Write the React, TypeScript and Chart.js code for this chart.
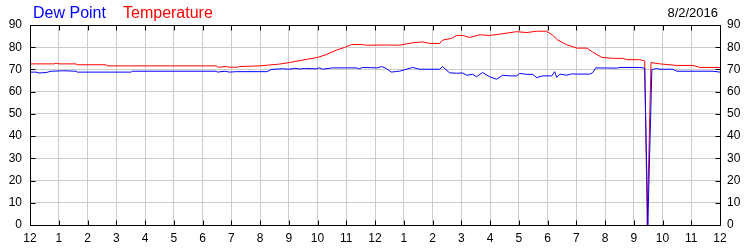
import React, { useEffect, useRef } from "react";
import { Chart, registerables } from "chart.js";

Chart.register(...registerables);

const hourLabels = ["12","1","2","3","4","5","6","7","8","9","10","11","12","1","2","3","4","5","6","7","8","9","10","11","12"];
const yTicks = [0, 10, 20, 30, 40, 50, 60, 70, 80, 90];
const dateLabel = "8/2/2016";
const seriesNames = ["Dew Point", "Temperature"];

const tempHours = [0,0.84,0.91,1.01,1.6,1.64,2.65,2.68,6.48,6.55,6.83,6.93,7.21,7.28,7.98,8.67,9.02,9.61,10.0,10.31,10.66,10.94,11.18,11.56,11.7,12.33,12.85,13.31,13.65,13.9,14.25,14.35,14.66,14.84,15.05,15.29,15.64,15.99,16.34,16.93,17.28,17.62,17.97,18.18,18.36,18.67,19.02,19.37,19.57,19.89,20.27,20.62,20.76,21.21,21.38,21.47,21.6,21.91,22.5,23.06,23.3,24];
const tempValues = [72.5,72.5,72.8,72.5,72.5,72.1,72.1,71.6,71.6,71.0,71.3,71.0,71.0,71.3,71.6,72.4,73.1,74.5,75.4,76.7,78.7,79.9,81.2,81.2,80.9,81.0,80.9,82.0,82.4,81.7,81.7,83.2,84.0,85.3,85.3,84.4,85.6,85.3,85.9,87.0,86.6,87.2,87.2,85.4,83.2,81.1,79.6,79.6,77.8,75.4,75.0,75.0,74.4,74.4,73.8,0,73.1,72.5,71.8,71.8,70.9,70.9];

const dewHours = [0,0.21,0.31,0.56,0.73,1.18,1.6,1.64,3.52,3.55,6.48,6.51,6.79,6.93,7.18,8.25,8.39,8.78,9.02,9.2,9.37,9.54,9.96,10.07,10.17,10.52,11.35,11.46,11.56,12.09,12.23,12.4,12.57,12.75,12.85,13.31,13.55,14.25,14.35,14.59,14.84,15.05,15.19,15.4,15.53,15.74,15.99,16.23,16.44,16.68,16.93,17.03,17.28,17.49,17.62,17.83,18.15,18.25,18.32,18.43,18.67,18.84,19.02,19.47,19.57,19.68,20.41,20.52,21.21,21.38,21.49,21.63,21.8,21.91,22.36,22.5,23.76,24];
const dewValues = [68.8,68.8,68.4,68.6,69.2,69.4,69.2,68.8,68.8,69.2,69.2,68.8,69.2,68.8,69.0,69.0,70.0,70.3,70.1,70.5,70.2,70.4,70.3,70.7,70.1,70.7,70.7,70.3,70.9,70.7,71.3,70.4,68.8,69.1,69.2,70.9,70.1,70.1,71.3,68.5,68.3,68.4,67.4,67.8,66.7,68.6,66.7,65.6,67.4,67.1,67.1,68.2,67.8,67.8,66.3,67.1,67.1,69.0,66.4,67.9,67.4,68.0,67.9,67.9,68.5,70.7,70.6,70.9,70.9,70.6,0,70.0,70.4,70.1,70.1,69.2,69.2,68.8];

const FONT = "'Liberation Sans', Arial, sans-serif";

const framePlugin = {
  id: "frameAndText",
  afterDraw(chart: any) {
    const { ctx, chartArea } = chart;
    const { left, right, top, bottom } = chartArea;
    const xs = chart.scales.x;
    const ys = chart.scales.y;
    ctx.save();
    ctx.strokeStyle = "#000";
    ctx.lineWidth = 1;
    ctx.beginPath();
    const L = Math.round(left) + 0.5, R = Math.round(right) + 0.5;
    const T = Math.round(top) + 0.5, B = Math.round(bottom) + 0.5;
    ctx.rect(L, T, R - L, B - T);
    for (let i = 0; i < hourLabels.length; i++) {
      const px = Math.round(xs.getPixelForValue(i)) + 0.5;
      ctx.moveTo(px, B); ctx.lineTo(px, B - 5);
      ctx.moveTo(px, T); ctx.lineTo(px, T + 5);
    }
    for (const v of yTicks) {
      const py = Math.round(ys.getPixelForValue(v)) + 0.5;
      ctx.moveTo(L, py); ctx.lineTo(L + 5, py);
      ctx.moveTo(R, py); ctx.lineTo(R - 5, py);
    }
    ctx.stroke();
    ctx.font = `16px ${FONT}`;
    ctx.textBaseline = "alphabetic";
    ctx.textAlign = "left";
    ctx.fillStyle = "#0000ff";
    ctx.fillText(seriesNames[0], 33, 18);
    ctx.fillStyle = "#ff0000";
    ctx.fillText(seriesNames[1], 123, 18);
    ctx.font = `13px ${FONT}`;
    ctx.fillStyle = "#000";
    ctx.textAlign = "right";
    ctx.fillText(dateLabel, 718, 17);
    ctx.restore();
  },
};

export default function App() {
  const ref = useRef<HTMLCanvasElement | null>(null);
  useEffect(() => {
    document.body.style.margin = "0";
    const canvas = ref.current!;
    const tickFont = { family: FONT, size: 12 };
    const chart = new Chart(canvas, {
      type: "line",
      data: {
        datasets: [
          {
            label: seriesNames[0],
            data: dewHours.map((h, i) => ({ x: h, y: dewValues[i] })),
            borderColor: "#0000ff",
            backgroundColor: "#0000ff",
            borderWidth: 1,
            pointRadius: 0,
            tension: 0,
            fill: false,
          },
          {
            label: seriesNames[1],
            data: tempHours.map((h, i) => ({ x: h, y: tempValues[i] })),
            borderColor: "#ff0000",
            backgroundColor: "#ff0000",
            borderWidth: 1,
            pointRadius: 0,
            tension: 0,
            fill: false,
          },
        ],
      },
      options: {
        animation: false,
        responsive: false,
        layout: { padding: { top: 25, left: 0, right: 0, bottom: 0 } },
        plugins: { legend: { display: false }, tooltip: { enabled: false }, title: { display: false } },
        scales: {
          x: {
            type: "linear",
            min: 0,
            max: 24,
            afterFit: (s: any) => { s.height = 25; },
            grid: { color: "#cccccc", drawTicks: false },
            border: { display: false },
            ticks: {
              stepSize: 1,
              autoSkip: false,
              maxRotation: 0,
              padding: 6,
              color: "#000",
              font: tickFont,
              callback: (v: any) => hourLabels[Number(v)] ?? "",
            },
          },
          y: {
            position: "left",
            min: 0,
            max: 90,
            afterFit: (s: any) => { s.width = 30; },
            grid: { color: "#cccccc", drawTicks: false },
            border: { display: false },
            ticks: { stepSize: 10, padding: 8, color: "#000", font: tickFont },
          },
          y2: {
            position: "right",
            display: true,
            min: 0,
            max: 90,
            afterFit: (s: any) => { s.width = 30; },
            grid: { display: false, drawTicks: false },
            border: { display: false },
            ticks: { stepSize: 10, padding: 7, color: "#000", font: tickFont },
          },
        },
      },
      plugins: [framePlugin],
    });
    return () => chart.destroy();
  }, []);
  return (
    <div style={{ width: 750, height: 250 }}>
      <canvas ref={ref} width={750} height={250} style={{ display: "block" }} />
    </div>
  );
}
